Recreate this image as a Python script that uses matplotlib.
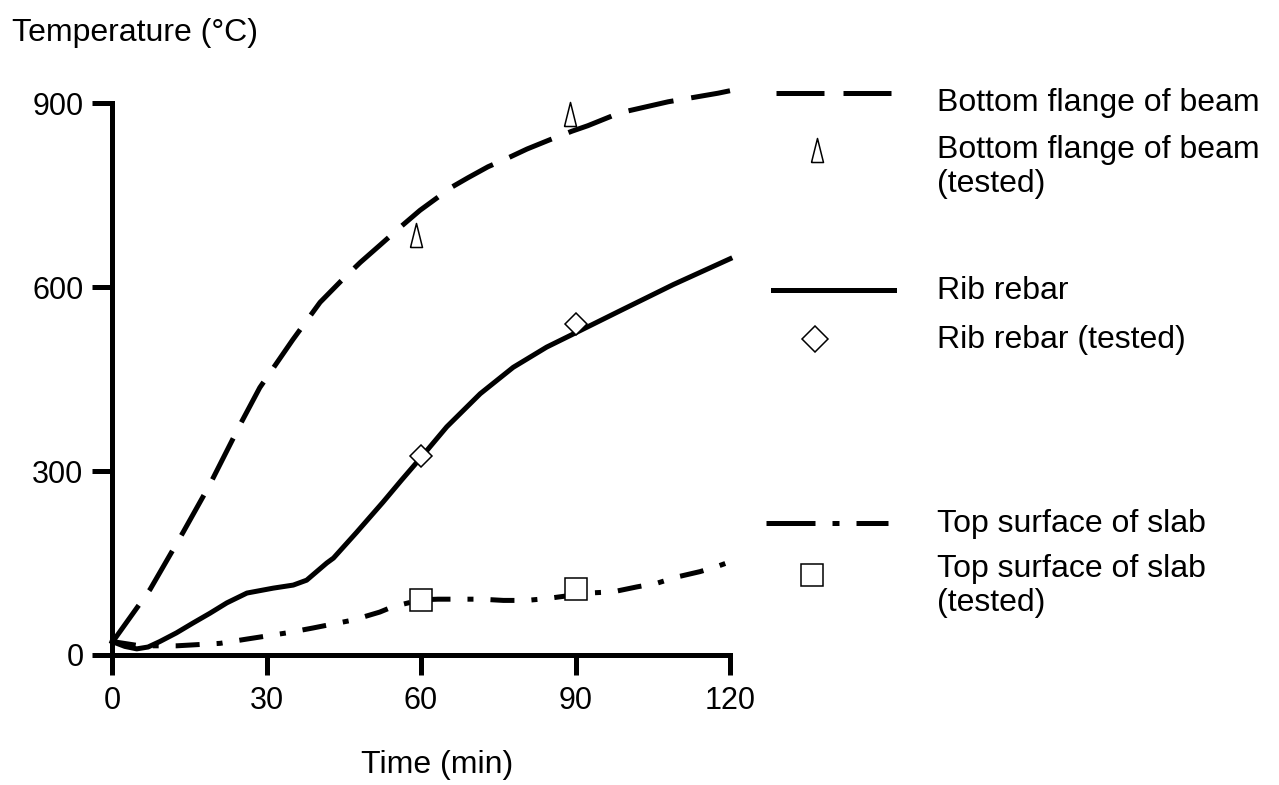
import numpy as np
import matplotlib.pyplot as plt
from matplotlib.lines import Line2D

plt.rcParams['font.family'] = ['Liberation Sans', 'DejaVu Sans']

# bottom flange of beam, computed
flange_t = [0, 7.4, 13.8, 19.0, 24.9, 28.7, 35.1, 40.4, 44.5, 48.2, 52, 55.9, 59.8,
            66, 69.1, 73, 77.3, 80.6, 85, 89.3, 92.4, 98.6, 108, 117.7, 120]
flange_T = [20, 107, 200, 278, 376, 436, 514, 575, 610, 640, 668, 697, 725,
            763, 778, 796, 812, 825, 840, 854, 863, 884, 902, 916, 920]
# bottom flange of beam, tested
flange_test_t = [59, 89]
flange_test_T = [685, 882]

# rib rebar, computed
rebar_t = [0, 2.5, 4.8, 7, 9.3, 12.5, 15.7, 19, 22.3, 26.2, 31.3, 35.2, 37.8,
           41.7, 43, 47.5, 52.6, 56.2, 60.1, 65, 71.5, 77.9, 84.4, 90.2, 98.6, 109, 120]
rebar_T = [22, 14, 10, 13, 22, 36, 52, 68, 85, 101, 109, 114, 122,
           150, 158, 200, 249, 285, 323, 372, 426, 469, 502, 526, 561, 604, 646]
rebar_test_t = [60, 90]
rebar_test_T = [324, 540]

# top surface of slab, computed
slab_t = [0, 5.4, 12.6, 21, 26.2, 33.9, 39, 46.8, 52, 54.6, 60, 63.3, 67.6,
          71.8, 76, 80.5, 84.4, 92.5, 97.3, 101.9, 105.8, 109.6, 114.2, 117.7, 120]
slab_T = [22, 15, 15, 19, 26, 36, 44, 57, 70, 79, 90, 91, 91,
          91, 89, 89, 92, 101, 103, 111, 117, 127, 136, 145, 152]
slab_test_t = [60, 90]
slab_test_T = [90, 108]

xticks = [0, 30, 60, 90, 120]
yticks = [0, 300, 600, 900]

legend_labels = ['Bottom flange of beam', 'Bottom flange of beam\n(tested)',
                 'Rib rebar', 'Rib rebar (tested)',
                 'Top surface of slab', 'Top surface of slab\n(tested)']

W, H = 1279, 785
fig = plt.figure(figsize=(W / 100, H / 100), dpi=100)
ax = fig.add_axes([112 / W, 1 - 655 / H, 618 / W, 552 / H])

lw = 3.6
# narrow upright triangle, closed outline
tri = [(-0.25, -0.5), (0.25, -0.5), (0, 0.5), (-0.25, -0.5)]
dash_long = (9.2, 3.6)
dash_dot = (4.8, 3.4, 1.2, 3.4)

ax.plot(flange_t, flange_T, color='black', lw=lw, dashes=dash_long, clip_on=False)
ax.plot(rebar_t, rebar_T, color='black', lw=lw, clip_on=False)
ax.plot(slab_t, slab_T, color='black', lw=lw, dashes=dash_dot, clip_on=False)

ax.plot(flange_test_t, flange_test_T, ls='none', marker=tri, ms=17.3,
        mfc='white', mec='black', mew=1.1, clip_on=False)
ax.plot(rebar_test_t, rebar_test_T, ls='none', marker='D', ms=11.7,
        mfc='white', mec='black', mew=1.1, clip_on=False)
ax.plot(slab_test_t, slab_test_T, ls='none', marker='s', ms=16.5,
        mfc='white', mec='black', mew=1.1, clip_on=False)

ax.set_xlim(0, 120)
ax.set_ylim(0, 900)
ax.set_xticks(xticks)
ax.set_yticks(yticks)
for s in ['top', 'right']:
    ax.spines[s].set_visible(False)
for s in ['left', 'bottom']:
    ax.spines[s].set_linewidth(lw)
    ax.spines[s].set_capstyle('projecting')
ax.tick_params(axis='both', direction='out', length=14.5, width=lw,
               labelsize=22, pad=6)
ax.tick_params(axis='x', pad=8)

fig.text(437 / W, 1 - 765 / H, 'Time (min)', fontsize=23, ha='center', va='center')
fig.text(12 / W, 1 - 33 / H, 'Temperature (°C)', fontsize=23, ha='left', va='center')

# legend drawn by hand on the figure
def px(x, y):
    return x / W, 1 - y / H

def seg(x0, x1, y, **kw):
    (a, b), (c, d) = px(x0, y), px(x1, y)
    fig.add_artist(Line2D([a, c], [b, d], color='black', lw=lw, **kw))

def mark(x, y, m, ms):
    a, b = px(x, y)
    fig.add_artist(Line2D([a], [b], ls='none', marker=m, ms=ms, mfc='white',
                          mec='black', mew=1.1))

seg(776, 891, 93, dashes=(9.6, 3.8))
mark(817, 150, tri, 17.3)
seg(773, 894, 290)
mark(815, 339, 'D', 13.5)
seg(766, 888, 523, dashes=(9.8, 3.4, 1.4, 3.4))
mark(812, 575, 's', 16.5)

text_y = [103, 167, 291, 340, 524, 586]
for lab, ty in zip(legend_labels, text_y):
    a, b = px(937, ty)
    fig.text(a, b, lab, fontsize=23, ha='left', va='center', linespacing=1.17)

fig.savefig('out.png', dpi=100)
